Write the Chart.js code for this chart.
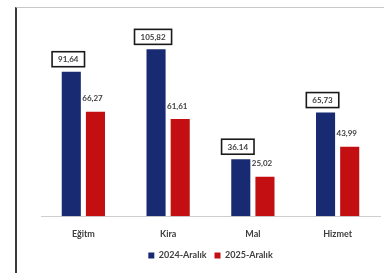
<!DOCTYPE html>
<html>
<head>
    <title>Chart</title>
    <script src="https://cdn.jsdelivr.net/npm/chart.js"></script>
    <style>
        body { margin: 0; background: #fff; }
        .wrap { position: relative; width: 384px; height: 273px; }
        .frame {
            position: absolute; left: 15px; top: 7px; right: 0; bottom: 0;
            border-left: 2px solid #3a3a3a;
            border-top: 1px solid #c8c8c8;
        }
        canvas { position: absolute; left: 0; top: 0; }
    </style>
</head>
<body>
    <div class="wrap">
        <div class="frame"></div>
        <canvas id="chart" width="384" height="273"></canvas>
    </div>
    <script>
        const categories = ['Eğitm', 'Kira', 'Mal', 'Hizmet'];
        const values2024 = [91.64, 105.82, 36.14, 65.73];
        const values2025 = [66.27, 61.61, 25.02, 43.99];
        const labels2024 = ['91,64', '105,82', '36.14', '65,73'];
        const labels2025 = ['66,27', '61,61', '25,02', '43,99'];

        // value labels: boxed for 2024, plain for 2025
        const valueLabels = {
            id: 'valueLabels',
            afterDatasetsDraw(chart) {
                const ctx = chart.ctx;
                ctx.save();
                ctx.font = 'bold 8px Lato';
                ctx.textAlign = 'center';
                ctx.textBaseline = 'middle';
                chart.getDatasetMeta(0).data.forEach((bar, i) => {
                    const txt = labels2024[i];
                    const w = ctx.measureText(txt).width + 12;
                    const h = 15;
                    const cx = bar.x - 3;
                    const cy = bar.y - 5 - h / 2;
                    ctx.fillStyle = '#fff';
                    ctx.fillRect(cx - w / 2, cy - h / 2, w, h);
                    ctx.lineWidth = 1.6;
                    ctx.strokeStyle = '#1a1a1a';
                    ctx.strokeRect(cx - w / 2, cy - h / 2, w, h);
                    ctx.fillStyle = '#404040';
                    ctx.fillText(txt, cx, cy + 0.5);
                });
                chart.getDatasetMeta(1).data.forEach((bar, i) => {
                    ctx.fillStyle = '#404040';
                    ctx.fillText(labels2025[i], bar.x - 3, bar.y - 13);
                });
                ctx.restore();
            }
        };

        new Chart(document.getElementById('chart'), {
            type: 'bar',
            data: {
                labels: categories,
                datasets: [{
                    label: '2024-Aralık',
                    data: values2024,
                    backgroundColor: '#172a72'
                }, {
                    label: '2025-Aralık',
                    data: values2025,
                    backgroundColor: '#c40f12'
                }]
            },
            options: {
                responsive: false,
                animation: false,
                datasets: {
                    bar: { categoryPercentage: 0.57, barPercentage: 0.79 }
                },
                layout: { padding: { left: 41, right: 4, top: 27, bottom: 3 } },
                plugins: {
                    tooltip: { enabled: false },
                    legend: {
                        position: 'bottom',
                        labels: {
                            boxWidth: 6, boxHeight: 6, padding: 8,
                            color: '#404040',
                            font: { family: 'Lato', size: 9, weight: 'bold' }
                        }
                    }
                },
                scales: {
                    y: { display: false, min: 0, max: 120 },
                    x: {
                        grid: { display: false },
                        border: { color: '#cfcfcf', width: 1 },
                        ticks: {
                            color: '#404040', padding: 4,
                            font: { family: 'Lato', size: 9, weight: 'bold' }
                        }
                    }
                }
            },
            plugins: [valueLabels]
        });
    </script>
</body>
</html>
